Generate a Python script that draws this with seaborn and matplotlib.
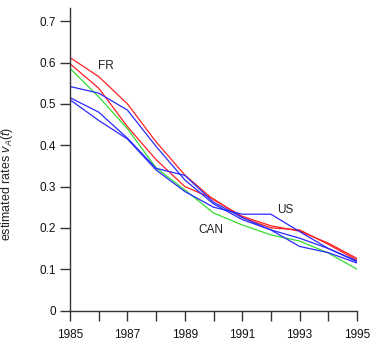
import numpy as np
import pandas as pd
import matplotlib
matplotlib.use("Agg")
import matplotlib.pyplot as plt
import seaborn as sns

years = list(range(1985, 1996))

fr_a = [0.612, 0.566, 0.500, 0.408, 0.328, 0.268, 0.228, 0.205, 0.192, 0.163, 0.126]
fr_b = [0.597, 0.538, 0.445, 0.365, 0.300, 0.270, 0.225, 0.200, 0.195, 0.160, 0.122]
can = [0.586, 0.517, 0.440, 0.345, 0.292, 0.236, 0.207, 0.183, 0.168, 0.139, 0.100]
us_a = [0.542, 0.526, 0.485, 0.397, 0.316, 0.258, 0.220, 0.195, 0.175, 0.150, 0.118]
us_b = [0.515, 0.480, 0.417, 0.344, 0.327, 0.262, 0.225, 0.195, 0.155, 0.140, 0.115]
us_c = [0.510, 0.460, 0.415, 0.340, 0.288, 0.250, 0.233, 0.233, 0.191, 0.150, 0.120]

series = {"FR a": fr_a, "FR b": fr_b, "CAN": can, "US a": us_a, "US b": us_b, "US c": us_c}
colors = {"FR a": "#ff2020", "FR b": "#ff2020", "CAN": "#33dd33",
          "US a": "#2a2aff", "US b": "#2a2aff", "US c": "#2a2aff"}

rows = []
for name, vals in series.items():
    for y, v in zip(years, vals):
        rows.append({"year": y, "rate": v, "series": name})
df = pd.DataFrame(rows)

labels = ["FR", "US", "CAN"]
label_x = [1986.25, 1992.5, 1989.9]
label_y = [0.592, 0.243, 0.196]

sns.set_style("ticks")
plt.rcParams["font.family"] = ["Liberation Sans", "DejaVu Sans"]
plt.rcParams["mathtext.fontset"] = "custom"
plt.rcParams["mathtext.it"] = "Liberation Sans:italic"
plt.rcParams["mathtext.rm"] = "Liberation Sans"

fig = plt.figure(figsize=(3.72, 3.43), dpi=100)
ax = fig.add_axes([70 / 372, 1 - 310.5 / 343, (357 - 70) / 372, (310.5 - 8) / 343])

sns.lineplot(data=df, x="year", y="rate", hue="series", palette=colors,
             estimator=None, legend=False, linewidth=0.9, ax=ax)

for t, x, y in zip(labels, label_x, label_y):
    ax.text(x, y, t, fontsize=8.5, ha="center", va="center", color="#222222")

ax.set_xlim(1985, 1995)
ax.set_ylim(0, 0.732)
ax.set_yticks([0, 0.1, 0.2, 0.3, 0.4, 0.5, 0.6, 0.7])
ax.set_yticklabels(["0", "0.1", "0.2", "0.3", "0.4", "0.5", "0.6", "0.7"])
ax.set_xticks([1985, 1987, 1989, 1991, 1993, 1995])
ax.set_xticks(years, minor=True)
ax.tick_params(axis="both", which="both", labelsize=8.5, length=7, width=1,
               color="#333333", labelcolor="#111111", pad=3)
ax.tick_params(axis="x", which="major", pad=6)
ax.set_xlabel("")
ax.set_ylabel("estimated rates $v_A(t)$", fontsize=9, color="#222222")
ax.yaxis.set_label_coords(-0.19, 0.418)
sns.despine(ax=ax)
for s in ["left", "bottom"]:
    ax.spines[s].set_color("#333333")
    ax.spines[s].set_linewidth(1)

fig.savefig("out.png", dpi=100)
